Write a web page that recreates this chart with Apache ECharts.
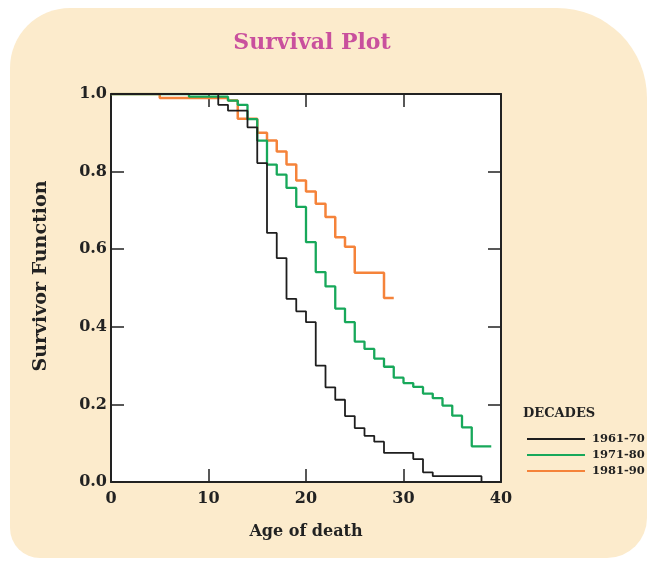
<!DOCTYPE html>
<html>
<head>
<meta charset="utf-8">
<script src="https://cdn.jsdelivr.net/npm/echarts@6.0.0/dist/echarts.min.js"></script>
<style>
  html, body { margin: 0; padding: 0; background: #fff; }
  #main { width: 650px; height: 562px; }
</style>
</head>
<body>
<div id="main"></div>
<script>
// survival estimates (age, survivor function after the step)
var decades = ['1961-70', '1971-80', '1981-90'];

var ages61 = [0, 11, 12, 14, 15, 16, 17, 18, 19, 20, 21, 22, 23, 24, 25, 26, 27, 28, 31, 32, 33, 38];
var surv61 = [1.0, 0.972, 0.957, 0.914, 0.822, 0.642, 0.577, 0.472, 0.44, 0.412, 0.30, 0.244, 0.212, 0.170, 0.139, 0.119, 0.104, 0.075, 0.059, 0.025, 0.015, 0.0];

var ages71 = [0, 8, 12, 13, 14, 15, 16, 17, 18, 19, 20, 21, 22, 23, 24, 25, 26, 27, 28, 29, 30, 31, 32, 33, 34, 35, 36, 37, 39];
var surv71 = [1.0, 0.993, 0.983, 0.972, 0.935, 0.880, 0.818, 0.792, 0.758, 0.709, 0.618, 0.541, 0.504, 0.447, 0.412, 0.362, 0.343, 0.318, 0.297, 0.269, 0.255, 0.245, 0.228, 0.216, 0.197, 0.171, 0.141, 0.092, 0.092];

var ages81 = [0, 5, 12, 13, 15, 16, 17, 18, 19, 20, 21, 22, 23, 24, 25, 28, 29];
var surv81 = [1.0, 0.99, 0.983, 0.936, 0.900, 0.880, 0.852, 0.818, 0.777, 0.749, 0.717, 0.683, 0.631, 0.606, 0.539, 0.474, 0.474];

var xTicks = [0, 10, 20, 30, 40];
var yTicks = [0, 0.2, 0.4, 0.6, 0.8, 1.0];

function pairs(xs, ys) {
    return xs.map(function (x, i) { return [x, ys[i]]; });
}

var serif = 'DejaVu Serif';
var ink = '#222';

var myChart = echarts.init(document.getElementById('main'));

function tickAxis(pos, isX, showLabel) {
    var ticks = isX ? xTicks : yTicks;
    return {
        type: 'value',
        position: pos,
        min: ticks[0],
        max: ticks[ticks.length - 1],
        interval: isX ? 10 : 0.2,
        axisLine: { show: true, onZero: false, lineStyle: { color: ink, width: 2 } },
        axisTick: { show: true, inside: true, length: 13, lineStyle: { color: ink, width: 1.5 } },
        splitLine: { show: false },
        axisLabel: {
            show: showLabel,
            fontFamily: serif,
            fontWeight: 'bold',
            fontSize: 16,
            color: ink,
            margin: isX ? 9 : 4,
            formatter: isX ? '{value}' : function (v) { return v.toFixed(1); }
        }
    };
}

var xBottom = tickAxis('bottom', true, true);
xBottom.name = 'Age of death';
xBottom.nameLocation = 'middle';
xBottom.nameGap = 42;
xBottom.nameTextStyle = { fontFamily: serif, fontWeight: 'bold', fontSize: 16, color: ink };

var yLeft = tickAxis('left', false, true);
yLeft.name = 'Survivor Function';
yLeft.nameLocation = 'middle';
yLeft.nameGap = 60;
yLeft.nameTextStyle = { fontFamily: serif, fontWeight: 'bold', fontSize: 19, color: ink, padding: [0, 0, 0, 24] };

myChart.setOption({
    backgroundColor: '#fff',
    animation: false,
    title: {
        text: 'Survival Plot',
        left: 307,
        textAlign: 'center',
        top: 27,
        textStyle: { fontFamily: serif, fontWeight: 'bold', fontSize: 22, color: '#c9509d' }
    },
    graphic: [
        {
            type: 'rect',
            z: -10,
            silent: true,
            shape: { x: 10, y: 8, width: 637, height: 550, r: [60, 90, 40, 30] },
            style: { fill: '#fcebcc' }
        },
        {
            type: 'text',
            left: 523,
            top: 407,
            style: { text: 'DECADES', font: 'bold 13px "DejaVu Serif"', fill: ink }
        }
    ],
    grid: {
        left: 111,
        right: 149,
        top: 94,
        bottom: 80,
        show: true,
        backgroundColor: '#fff',
        borderWidth: 0
    },
    legend: {
        orient: 'vertical',
        left: 522,
        top: 428,
        itemWidth: 58,
        itemHeight: 2,
        itemGap: 4,
        icon: 'rect',
        data: decades,
        textStyle: { fontFamily: serif, fontWeight: 'bold', fontSize: 11.5, color: ink, padding: [0, 0, 0, 2] }
    },
    xAxis: [xBottom, tickAxis('top', true, false)],
    yAxis: [yLeft, tickAxis('right', false, false)],
    series: [
        {
            name: decades[0],
            type: 'line',
            step: 'end',
            showSymbol: false,
            z: 4,
            color: '#1e1e1e',
            lineStyle: { width: 1.8 },
            data: pairs(ages61, surv61)
        },
        {
            name: decades[1],
            type: 'line',
            step: 'end',
            showSymbol: false,
            z: 3,
            color: '#17a85a',
            lineStyle: { width: 2.3 },
            data: pairs(ages71, surv71)
        },
        {
            name: decades[2],
            type: 'line',
            step: 'end',
            showSymbol: false,
            z: 2,
            color: '#f5833a',
            lineStyle: { width: 2.5 },
            data: pairs(ages81, surv81)
        }
    ]
});
</script>
</body>
</html>
